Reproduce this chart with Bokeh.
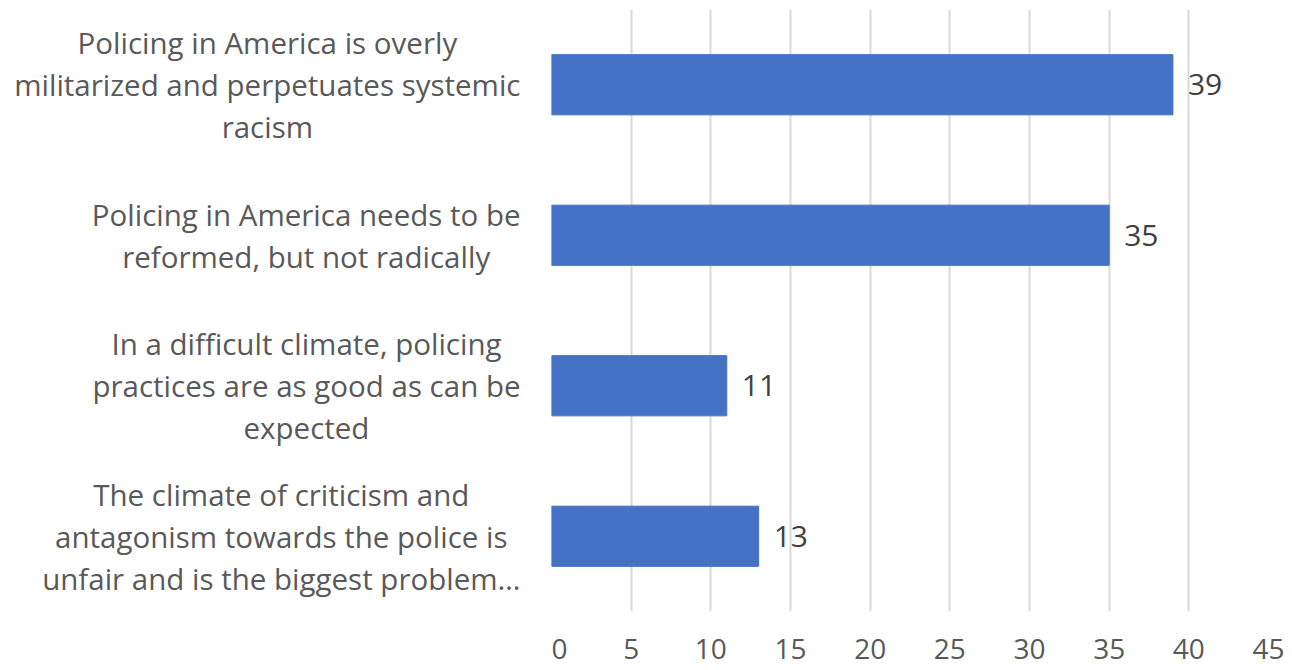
from bokeh.plotting import figure
from bokeh.layouts import row
from bokeh.models import FactorRange, Range1d, ColumnDataSource, FixedTicker
from bokeh.embed import file_html
from bokeh.resources import INLINE
from bokeh.core.properties import value

categories = [
    "Policing in America is overly\nmilitarized and perpetuates systemic\nracism",
    "Policing in America needs to be\nreformed, but not radically",
    "In a difficult climate, policing\npractices are as good as can be\nexpected",
    "The climate of criticism and\nantagonism towards the police is\nunfair and is the biggest problem\u2026",
]
values = [39, 35, 11, 13]
x_ticks = [0, 5, 10, 15, 20, 25, 30, 35, 40, 45]

FONT = "Open Sans"
BAR = "#4472C4"
GRID = "#D9D9D9"
TXT = "#595959"

H = 670
TOP = 9
BOTTOM = 59

src = ColumnDataSource(dict(cat=categories, val=values, lab=[str(v) for v in values],
                            pos=[1] * len(values)))
yr = FactorRange(factors=categories[::-1], range_padding=0)

# left panel: category labels (right-anchored blocks, centred lines)
lp = figure(width=551, height=H, output_backend="svg", toolbar_location=None,
            y_range=yr, x_range=Range1d(0, 1), x_axis_location=None, y_axis_location=None,
            min_border_left=0, min_border_right=0, min_border_top=TOP, min_border_bottom=BOTTOM)
lp.outline_line_color = None
lp.grid.visible = False
lp.text(x="pos", y="cat", text="cat", source=src, x_offset=-31, anchor="center_right",
        text_align="center", text_baseline="middle", text_color=TXT,
        text_font=value(FONT), text_font_size="29.5px", text_line_height=1.03)

# main panel: bars
p = figure(width=733, height=H, output_backend="svg", toolbar_location=None,
           y_range=yr, x_range=Range1d(0, 45), y_axis_location=None,
           min_border_left=0, min_border_right=16, min_border_top=TOP, min_border_bottom=BOTTOM)
p.outline_line_color = None

p.hbar(y="cat", right="val", left=0, height=0.4, source=src, color=BAR)
p.text(x="val", y="cat", text="lab", source=src, x_offset=15, text_baseline="middle",
       text_align="left", text_color="#404040", text_font=value(FONT), text_font_size="30px")

p.xaxis.ticker = FixedTicker(ticks=x_ticks)
p.xaxis.axis_line_color = None
p.xaxis.major_tick_line_color = None
p.xaxis.minor_tick_line_color = None
p.xaxis.major_label_standoff = 21
p.xaxis.major_label_text_font = FONT
p.xaxis.major_label_text_font_size = "28px"
p.xaxis.major_label_text_color = TXT

p.xgrid.grid_line_color = GRID
p.xgrid.grid_line_width = 2
p.ygrid.grid_line_color = None

layout = row(lp, p, spacing=0)
open("out.html", "w").write(file_html(layout, INLINE))
